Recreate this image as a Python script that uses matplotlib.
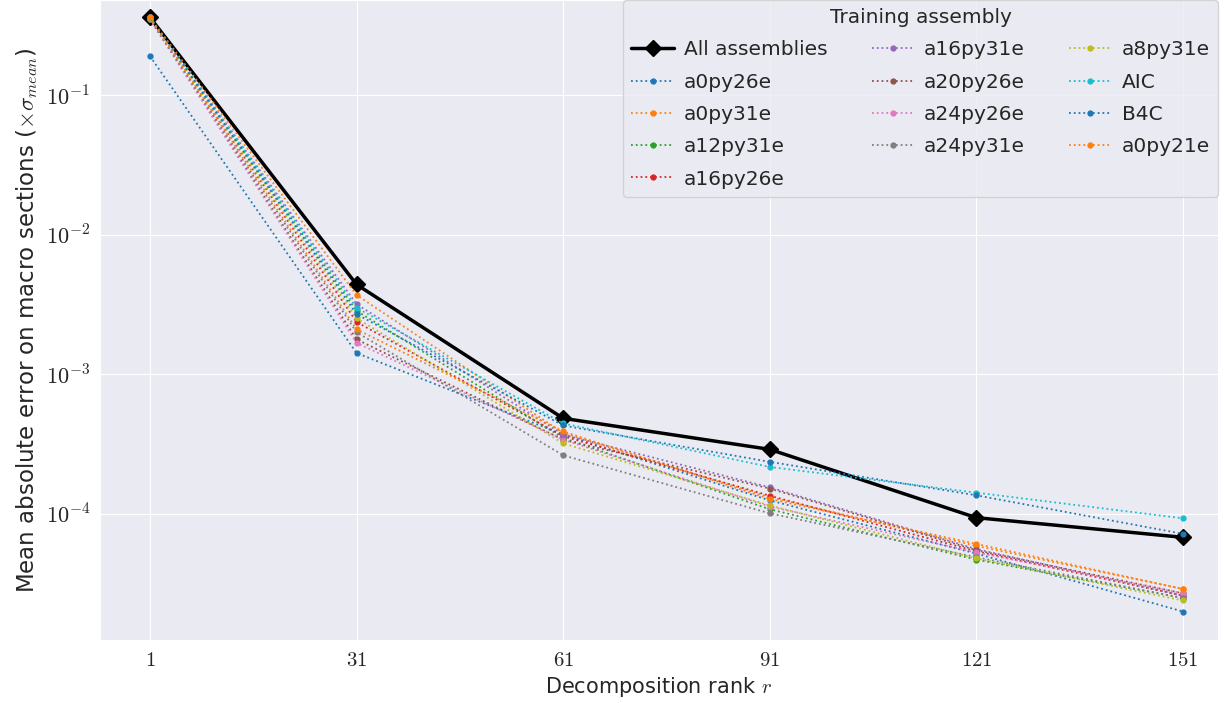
import numpy as np
import matplotlib
matplotlib.use("Agg")
import matplotlib.pyplot as plt
from matplotlib.ticker import FuncFormatter, LogLocator
import seaborn as sns

sns.set_style("darkgrid")
plt.rcParams["font.family"] = ["DejaVu Sans"]
plt.rcParams["mathtext.fontset"] = "cm"

# decomposition ranks
ranks = [1, 31, 61, 91, 121, 151]

# mean absolute error, all assemblies used for training
err_all = [0.36, 4.4e-3, 4.84e-4, 2.9e-4, 9.4e-5, 6.8e-5]

# one training assembly at a time
names = ["a0py26e", "a0py31e", "a12py31e", "a16py26e", "a16py31e", "a20py26e",
         "a24py26e", "a24py31e", "a8py31e", "AIC", "B4C", "a0py21e"]
err_a0py26e  = [0.19,  1.42e-3, 3.7e-4,  1.25e-4, 5.2e-5,  2.0e-5]
err_a0py31e  = [0.36,  3.7e-3,  3.8e-4,  1.32e-4, 5.9e-5,  2.9e-5]
err_a12py31e = [0.355, 2.85e-3, 3.5e-4,  1.08e-4, 4.7e-5,  2.5e-5]
err_a16py26e = [0.355, 2.37e-3, 3.6e-4,  1.35e-4, 5.4e-5,  2.6e-5]
err_a16py31e = [0.355, 3.18e-3, 3.7e-4,  1.55e-4, 5.6e-5,  2.6e-5]
err_a20py26e = [0.35,  1.78e-3, 3.4e-4,  1.52e-4, 5.5e-5,  2.7e-5]
err_a24py26e = [0.35,  1.68e-3, 3.4e-4,  1.13e-4, 5.3e-5,  2.7e-5]
err_a24py31e = [0.35,  2.0e-3,  2.63e-4, 1.01e-4, 4.9e-5,  2.5e-5]
err_a8py31e  = [0.355, 2.52e-3, 3.2e-4,  1.15e-4, 4.8e-5,  2.4e-5]
err_AIC      = [0.36,  3.0e-3,  4.45e-4, 2.17e-4, 1.42e-4, 9.3e-5]
err_B4C      = [0.36,  2.7e-3,  4.3e-4,  2.36e-4, 1.36e-4, 7.2e-5]
err_a0py21e  = [0.36,  2.1e-3,  3.9e-4,  1.28e-4, 6.1e-5,  2.9e-5]

series = [err_a0py26e, err_a0py31e, err_a12py31e, err_a16py26e, err_a16py31e,
          err_a20py26e, err_a24py26e, err_a24py31e, err_a8py31e, err_AIC,
          err_B4C, err_a0py21e]

fig = plt.figure(figsize=(12.26, 7.03), dpi=100)
ax = fig.add_axes([100/1226, 63/703, 1118/1226, 640/703])

ax.plot(ranks, err_all, color="black", lw=2.5, marker="D", ms=8,
        label="All assemblies")
colors = plt.get_cmap("tab10").colors
for i, (name, vals) in enumerate(zip(names, series)):
    ax.plot(ranks, vals, ls=":", lw=1.3, marker="o", ms=3.5,
            color=colors[i % 10], label=name)

ax.set_yscale("log")
ax.set_xlim(-6.26, 156.1)
ax.set_ylim(1.25e-5, 0.48)
ax.yaxis.set_major_locator(LogLocator(base=10))
ax.yaxis.set_major_formatter(FuncFormatter(
    lambda v, p: rf"$10^{{{int(round(np.log10(v)))}}}$"))
ax.set_xticks(ranks)
ax.set_xticklabels([f"${r}$" for r in ranks], fontsize=15)
ax.tick_params(axis="y", labelsize=16)
ax.grid(which="minor", visible=False)
ax.set_xlabel("Decomposition rank $r$", fontsize=15)
ax.set_ylabel(r"Mean absolute error on macro sections ($\times\sigma_{mean}$)",
              fontsize=16.5)

leg = ax.legend(ncol=3, title="Training assembly", loc="upper right",
                fontsize=14.5, title_fontsize=14.5, columnspacing=2.2,
                labelspacing=0.66, handlelength=2.1, handletextpad=0.5,
                borderaxespad=0.0)

fig.savefig("out.png", dpi=100)
